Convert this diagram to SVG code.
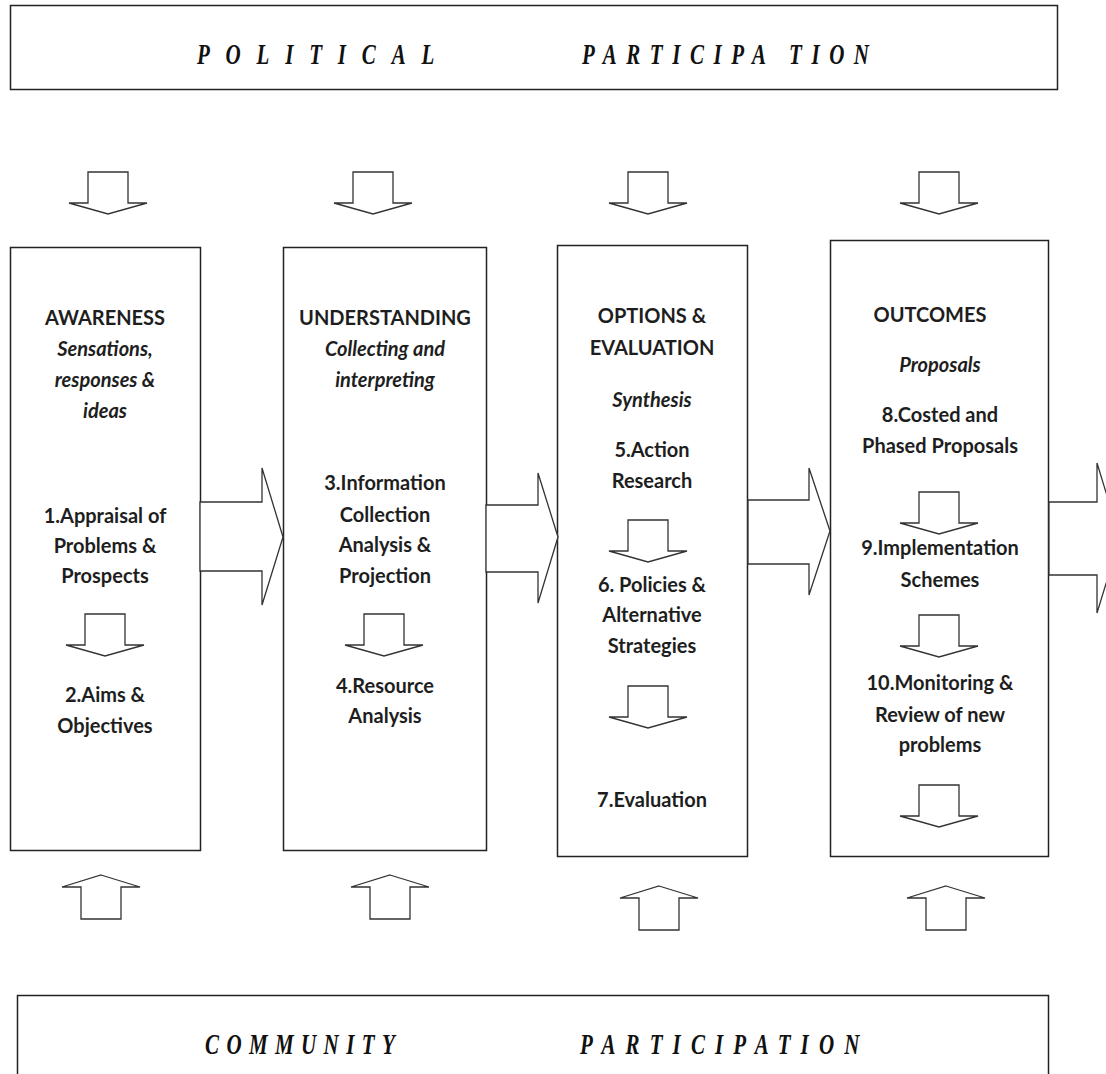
<svg xmlns="http://www.w3.org/2000/svg" width="1106" height="1074" viewBox="0 0 1106 1074">
<style>
.box{fill:#fff;stroke:#222;stroke-width:1.5}
.arr{fill:#fff;stroke:#333;stroke-width:1.3;stroke-linejoin:miter}
.t{font-family:Lato,"Liberation Sans",sans-serif;font-weight:bold;font-size:20px;text-anchor:middle;fill:#1e1e1e}
.i{font-style:italic}
.b{font-family:"Liberation Serif",serif;font-weight:bold;font-style:italic;font-size:30px;fill:#111}
</style>
<defs>
<path id="down" d="M-20,0 H20 V31 H39 L0,42 L-39,31 H-20 Z"/>
<path id="up" d="M0,0 L39,12 H20 V44 H-20 V12 H-39 Z"/>
</defs>
<rect width="1106" height="1074" fill="#fff"/>

<g id="political">
<rect class="box" x="10.5" y="5.5" width="1047" height="84"/>
<text class="b" transform="scale(0.7 1)" x="281.4" y="64" textLength="339" lengthAdjust="spacing">POLITICAL</text>
<text class="b" transform="scale(0.7 1)" x="831.4" y="64" textLength="410" lengthAdjust="spacing">PARTICIPA TION</text>
</g>

<g id="community">
<rect class="box" x="17.5" y="995.5" width="1031" height="100"/>
<text class="b" transform="scale(0.7 1)" x="292.9" y="1054" textLength="271" lengthAdjust="spacing">COMMUNITY</text>
<text class="b" transform="scale(0.7 1)" x="828.6" y="1054" textLength="399" lengthAdjust="spacing">PARTICIPATION</text>
</g>

<g id="awareness">
<rect class="box" x="10.5" y="247.5" width="190" height="603"/>
<text class="t" x="105" y="325">AWARENESS</text>
<text class="t i" x="105" y="356">Sensations,</text>
<text class="t i" x="105" y="387">responses &amp;</text>
<text class="t i" x="105" y="418">ideas</text>
<text class="t" x="105" y="523">1.Appraisal of</text>
<text class="t" x="105" y="553">Problems &amp;</text>
<text class="t" x="105" y="583">Prospects</text>
<text class="t" x="105" y="702">2.Aims &amp;</text>
<text class="t" x="105" y="733">Objectives</text>
</g>

<g id="understanding">
<rect class="box" x="283.5" y="247.5" width="203" height="603"/>
<text class="t" x="385" y="325">UNDERSTANDING</text>
<text class="t i" x="385" y="356">Collecting and</text>
<text class="t i" x="385" y="387">interpreting</text>
<text class="t" x="385" y="490">3.Information</text>
<text class="t" x="385" y="522">Collection</text>
<text class="t" x="385" y="552">Analysis &amp;</text>
<text class="t" x="385" y="583">Projection</text>
<text class="t" x="385" y="693">4.Resource</text>
<text class="t" x="385" y="723">Analysis</text>
</g>

<g id="options">
<rect class="box" x="557.5" y="245.5" width="190" height="611"/>
<text class="t" x="652" y="323">OPTIONS &amp;</text>
<text class="t" x="652" y="355">EVALUATION</text>
<text class="t i" x="652" y="407">Synthesis</text>
<text class="t" x="652" y="457">5.Action</text>
<text class="t" x="652" y="488">Research</text>
<text class="t" x="652" y="592">6. Policies &amp;</text>
<text class="t" x="652" y="622">Alternative</text>
<text class="t" x="652" y="653">Strategies</text>
<text class="t" x="652" y="807">7.Evaluation</text>
</g>

<g id="outcomes">
<rect class="box" x="830.5" y="240.5" width="218" height="616"/>
<text class="t" x="930" y="322">OUTCOMES</text>
<text class="t i" x="940" y="372">Proposals</text>
<text class="t" x="940" y="422">8.Costed and</text>
<text class="t" x="940" y="453">Phased Proposals</text>
<text class="t" x="940" y="555">9.Implementation</text>
<text class="t" x="940" y="587">Schemes</text>
<text class="t" x="940" y="690">10.Monitoring &amp;</text>
<text class="t" x="940" y="722">Review of new</text>
<text class="t" x="940" y="752">problems</text>
</g>

<g id="connectors">
<polygon class="arr" points="200,502 262,502 262,468 283,537 262,605 262,571 200,571"/>
<polygon class="arr" points="486,505 538,505 538,473 558,537 538,603 538,572 486,572"/>
<polygon class="arr" points="748,500 809,500 809,468 830,531 809,595 809,564 748,564"/>
<polygon class="arr" points="1049,502 1097,502 1097,463 1120,538 1097,613 1097,575 1049,575"/>

<use href="#down" class="arr" transform="translate(108,172)"/>
<use href="#down" class="arr" transform="translate(373,172)"/>
<use href="#down" class="arr" transform="translate(648,172)"/>
<use href="#down" class="arr" transform="translate(939,172)"/>

<use href="#down" class="arr" transform="translate(105,614)"/>
<use href="#down" class="arr" transform="translate(384,614)"/>
<use href="#down" class="arr" transform="translate(648,520)"/>
<use href="#down" class="arr" transform="translate(648,686)"/>
<use href="#down" class="arr" transform="translate(939,492)"/>
<use href="#down" class="arr" transform="translate(939,615)"/>
<use href="#down" class="arr" transform="translate(939,785)"/>

<use href="#up" class="arr" transform="translate(101,875)"/>
<use href="#up" class="arr" transform="translate(390,875)"/>
<use href="#up" class="arr" transform="translate(659,886)"/>
<use href="#up" class="arr" transform="translate(946,886)"/>
</g>
</svg>
